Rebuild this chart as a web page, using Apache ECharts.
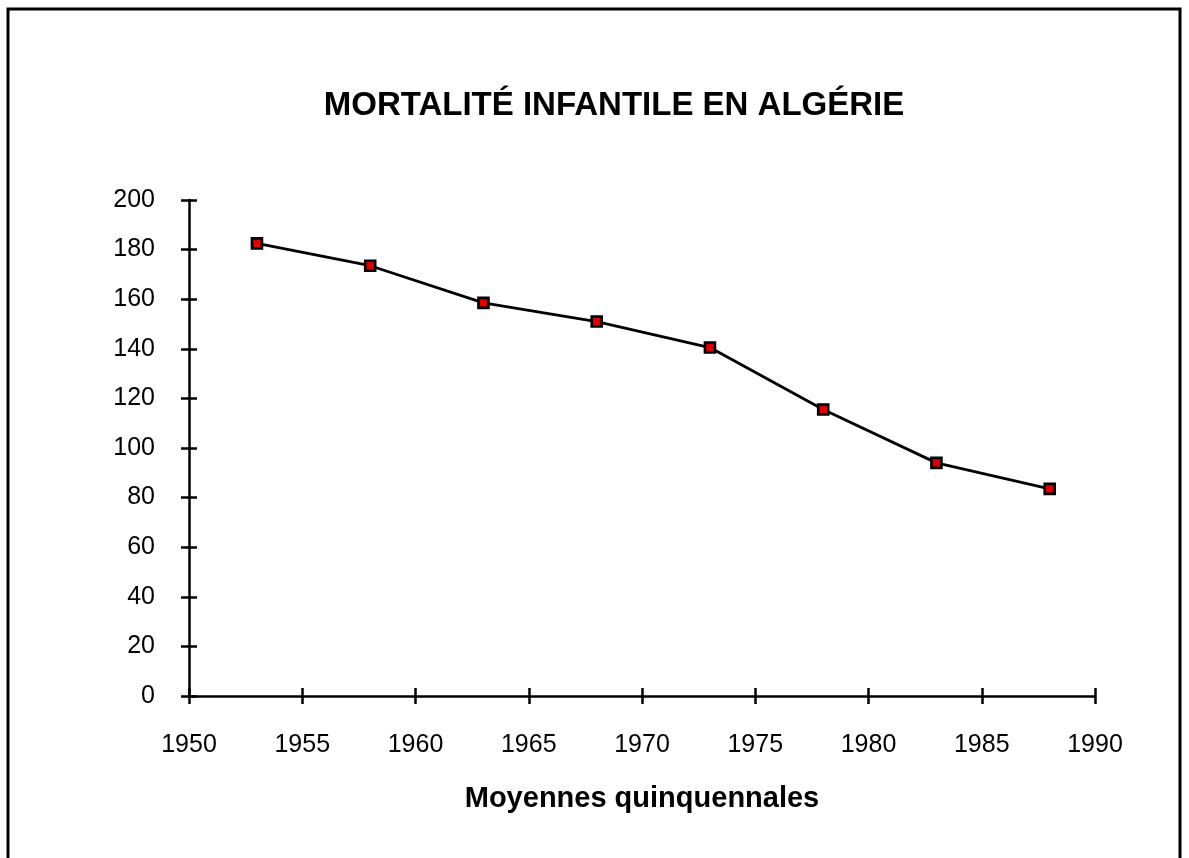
<!DOCTYPE html>
<html>
<head>
<meta charset="utf-8">
<script src="https://cdn.jsdelivr.net/npm/echarts@6/dist/echarts.min.js"></script>
<style>
  html, body { margin: 0; padding: 0; background: #fff; }
  #chart { width: 1189px; height: 858px; }
</style>
</head>
<body>
<div id="chart"></div>
<script>
// données
const years = [1953, 1958, 1963, 1968, 1973, 1978, 1983, 1988];
const mortality = [182.5, 173.5, 158.5, 151, 140.5, 115.5, 94, 83.5];
const titleText = "MORTALITÉ INFANTILE EN ALGÉRIE";
const xName = "Moyennes quinquennales";

const chart = echarts.init(document.getElementById("chart"));
const font = "'Liberation Sans', Arial, sans-serif";
const axisLine = { show: true, lineStyle: { color: "#000", width: 2.5 } };
const tickStyle = { color: "#000", width: 2.5 };

const option = {
  animation: false,
  backgroundColor: "#fff",
  title: {
    text: titleText,
    left: 609,
    top: 84,
    textAlign: "center",
    textStyle: { fontFamily: font, fontSize: 33, fontWeight: "bold", color: "#000" },
  },
  graphic: [
    {
      type: "rect",
      shape: { x: 8, y: 9, width: 1172, height: 900 },
      style: { fill: null, stroke: "#000", lineWidth: 3 },
      silent: true,
    },
  ],
  grid: { left: 189, right: 94, top: 200, bottom: 162 },
  xAxis: [
    {
      type: "value",
      min: 1950,
      max: 1990,
      interval: 5,
      splitLine: { show: false },
      axisLine: axisLine,
      axisTick: { show: true, length: 8, lineStyle: tickStyle },
      axisLabel: {
        fontFamily: font,
        fontSize: 25,
        color: "#000",
        margin: 37,
        formatter: (v) => String(v),
      },
      name: xName,
      nameLocation: "middle",
      nameGap: 88,
      nameTextStyle: { fontFamily: font, fontSize: 29, fontWeight: "bold", color: "#000" },
    },
    {
      // ticks vers l'intérieur pour qu'ils traversent l'axe
      type: "value",
      position: "bottom",
      min: 1950,
      max: 1990,
      interval: 5,
      splitLine: { show: false },
      axisLine: { show: false },
      axisTick: { show: true, inside: true, length: 8, lineStyle: tickStyle },
      axisLabel: { show: false },
    },
  ],
  yAxis: [
    {
      type: "value",
      min: 0,
      max: 200,
      interval: 20,
      splitLine: { show: false },
      axisLine: axisLine,
      axisTick: { show: true, length: 8, lineStyle: tickStyle },
      axisLabel: { fontFamily: font, fontSize: 25, color: "#000", margin: 34 },
    },
    {
      type: "value",
      position: "left",
      min: 0,
      max: 200,
      interval: 20,
      splitLine: { show: false },
      axisLine: { show: false },
      axisTick: { show: true, inside: true, length: 8, lineStyle: tickStyle },
      axisLabel: { show: false },
    },
  ],
  series: [
    {
      type: "line",
      data: years.map((y, i) => [y, mortality[i]]),
      symbol: "rect",
      symbolSize: 10,
      lineStyle: { color: "#000", width: 2.8 },
      itemStyle: { color: "#dd0000", borderColor: "#000", borderWidth: 2.6 },
    },
  ],
};

chart.setOption(option);
</script>
</body>
</html>
